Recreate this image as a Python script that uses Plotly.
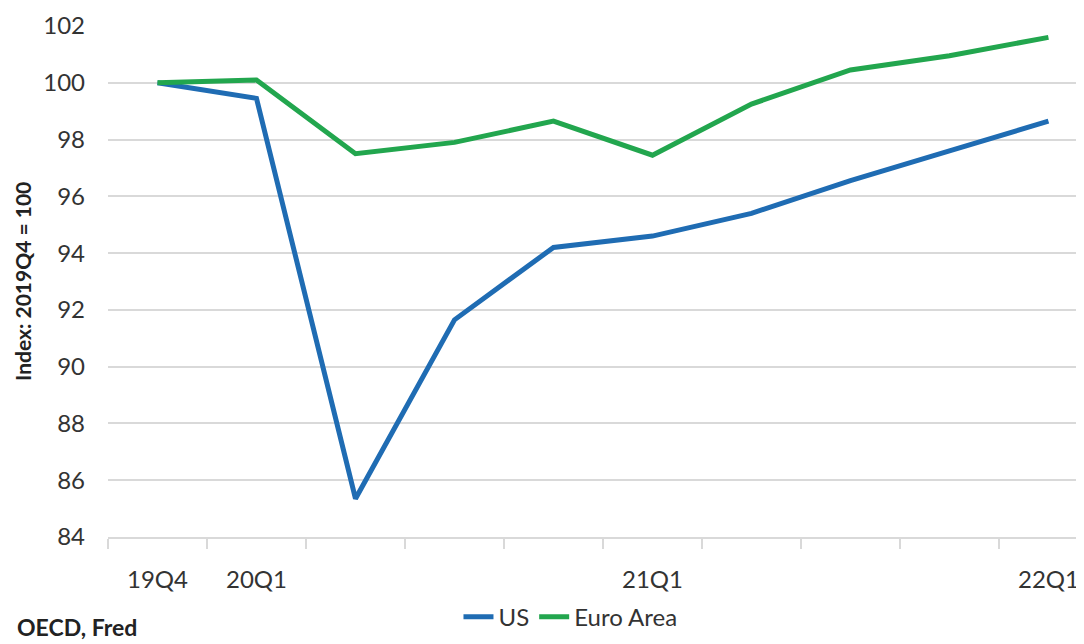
import plotly.graph_objects as go

quarters = ["19Q4", "20Q1", "20Q2", "20Q3", "20Q4", "21Q1", "21Q2", "21Q3", "21Q4", "22Q1"]
shown_labels = ["19Q4", "20Q1", "21Q1", "22Q1"]
us = [100.0, 99.45, 85.35, 91.65, 94.2, 94.6, 95.4, 96.55, 97.6, 98.65]
euro = [100.0, 100.1, 97.5, 97.9, 98.65, 97.45, 99.25, 100.45, 100.95, 101.6]
y_ticks = [84, 86, 88, 90, 92, 94, 96, 98, 100, 102]

xpos = list(range(len(quarters)))
label_pos = [quarters.index(q) for q in shown_labels]
boundaries = [i - 0.5 for i in range(len(quarters) + 1)]

FONT = "Lato, 'Open Sans', sans-serif"
GRID = "#d9d9d9"
TXT = "#333333"
XRANGE = [-0.5, 9.44]

fig = go.Figure()
fig.add_trace(go.Scatter(x=xpos, y=us, name="US", mode="lines",
                         line=dict(color="#1f6cb3", width=5)))
fig.add_trace(go.Scatter(x=xpos, y=euro, name="Euro Area", mode="lines",
                         line=dict(color="#22a64e", width=5)))

fig.update_layout(
    width=1084, height=644,
    margin=dict(l=100, r=0, t=18, b=115),
    paper_bgcolor="white", plot_bgcolor="white",
    font=dict(family=FONT, size=22, color=TXT),
    xaxis=dict(
        range=XRANGE,
        tickmode="array", tickvals=label_pos, ticktext=shown_labels,
        ticks="", showgrid=False, zeroline=False,
        showline=True, linecolor=GRID, linewidth=2,
        ticklabelstandoff=20,
        tickfont=dict(size=24, color=TXT),
        minor=dict(tickmode="array", tickvals=boundaries, ticks="outside",
                   ticklen=10, tickwidth=1.5, tickcolor=GRID, showgrid=False),
    ),
    xaxis2=dict(
        overlaying="x", anchor="y", side="bottom",
        range=XRANGE,
        tickmode="array", tickvals=boundaries, ticks="inside",
        ticklen=10, tickwidth=1.5, tickcolor=GRID,
        showticklabels=False, showgrid=False, zeroline=False, showline=False,
    ),
    yaxis=dict(
        range=[84, 102],
        tickmode="array", tickvals=y_ticks,
        showgrid=True, gridcolor=GRID, gridwidth=2,
        zeroline=False, showline=False, ticks="",
        ticklabelstandoff=22,
        tickfont=dict(size=24, color=TXT),
    ),
    legend=dict(orientation="h", x=0.47, xanchor="center", y=-0.157, yanchor="middle",
                font=dict(size=24, color=TXT),
                tracegroupgap=0, bgcolor="rgba(0,0,0,0)"),
    showlegend=True,
)

fig.add_annotation(text="<b>Index: 2019Q4 = 100</b>", textangle=-90,
                   xref="paper", yref="paper", x=-0.087, y=0.5,
                   xanchor="center", yanchor="middle", showarrow=False,
                   font=dict(family=FONT, size=21, color="#222222"))
fig.add_annotation(text="<b>OECD, Fred</b>",
                   xref="paper", yref="paper", x=-0.095, y=-0.176,
                   xanchor="left", yanchor="middle", showarrow=False,
                   font=dict(family=FONT, size=23, color="#222222"))

fig.write_html("out.html")
